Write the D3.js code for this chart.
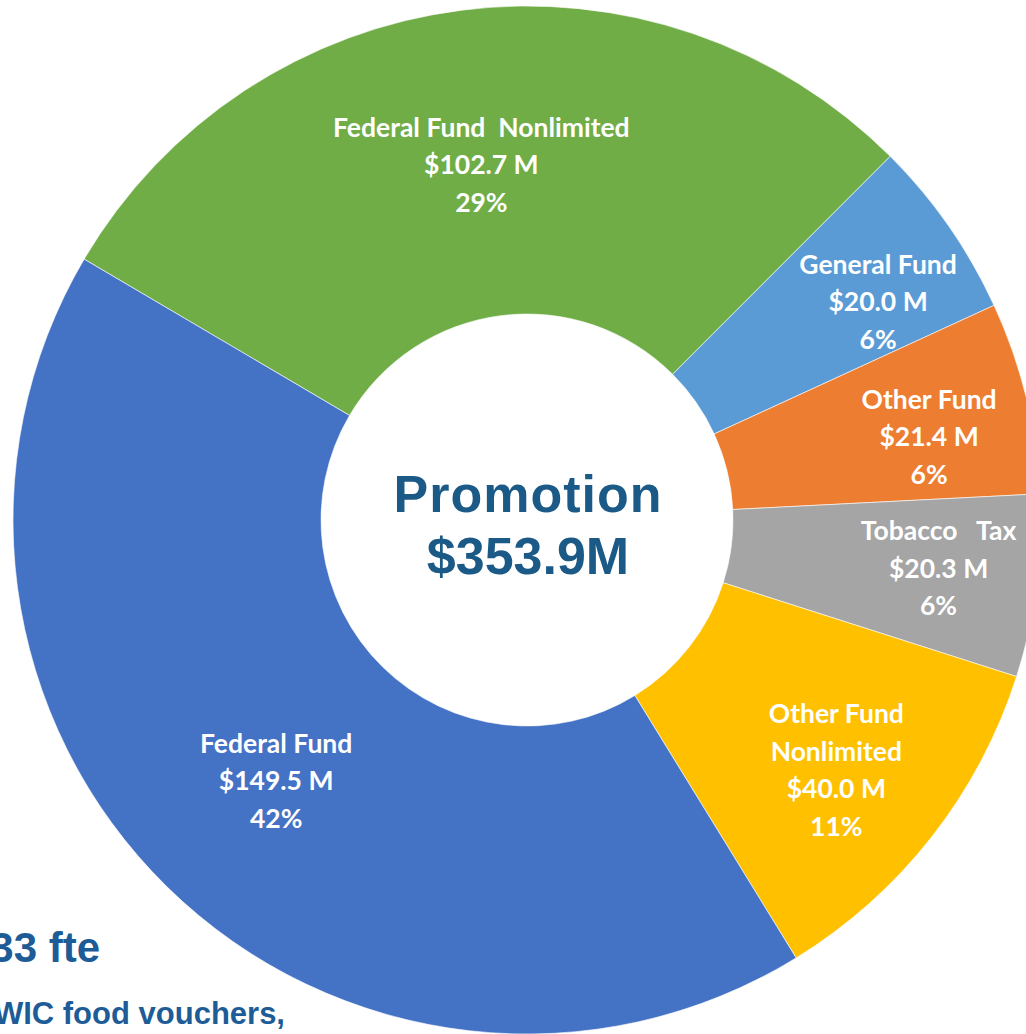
<!DOCTYPE html>
<html>
<head>
<meta charset="utf-8">
<script src="https://cdn.jsdelivr.net/npm/d3@7"></script>
<style>
html,body{margin:0;padding:0;background:#fff;}
svg{display:block;}
</style>
</head>
<body>
<svg id="chart" width="1026" height="1034"></svg>
<script>
// Data
const categories = ["Federal Fund Nonlimited", "General Fund", "Other Fund", "Tobacco Tax", "Other Fund Nonlimited", "Federal Fund"];
const labelLines = [["Federal Fund  Nonlimited"], ["General Fund"], ["Other Fund"], ["Tobacco   Tax"], ["Other Fund", "Nonlimited"], ["Federal Fund"]];
const values = [102.7, 20.0, 21.4, 20.3, 40.0, 149.5];
const percents = ["29%", "6%", "6%", "6%", "11%", "42%"];
const colors = ["#70AD47", "#5B9BD5", "#ED7D31", "#A5A5A5", "#FFC000", "#4472C4"];
const centerTitle = ["Promotion", "$353.9M"];
const backgroundText = ["33 fte", "WIC food vouchers,"];

// layout nudges for the data labels (pixels)
const labelNudge = [[0, 3], [13, 17], [2, 15], [3, -5], [-15, -4], [2, 3]];

const svg = d3.select("#chart");
const cx = 527, cy = 520, R = 514, r = 206;
const startDeg = -59.5;

// background slide text (behind donut)
svg.append("text").attr("x", 100).attr("y", 962).attr("text-anchor", "end")
  .attr("font-family", "Liberation Sans, Arial, sans-serif").attr("font-weight", "bold")
  .attr("font-size", 42).attr("fill", "#1D5C96").text(backgroundText[0]);
svg.append("text").attr("x", 285).attr("y", 1024).attr("text-anchor", "end")
  .attr("font-family", "Liberation Sans, Arial, sans-serif").attr("font-weight", "bold")
  .attr("font-size", 31).attr("fill", "#1D5C96").text(backgroundText[1]);

const pie = d3.pie().sort(null).value(d => d)
  .startAngle(startDeg * Math.PI / 180)
  .endAngle((startDeg + 360) * Math.PI / 180);
const arcs = pie(values);
const arc = d3.arc().innerRadius(r).outerRadius(R);

const g = svg.append("g").attr("transform", `translate(${cx},${cy})`);
g.selectAll("path.slice").data(arcs).enter().append("path")
  .attr("class", "slice")
  .attr("d", arc)
  .attr("fill", (d, i) => colors[i])
  .attr("stroke", "rgba(255,255,255,0.6)")
  .attr("stroke-width", 1);

// labels
const total = d3.sum(values);
const labelArcSmall = d3.arc().innerRadius(412).outerRadius(412);
const labelArcBig = d3.arc().innerRadius(361).outerRadius(361);
const lineH = 37.5;
arcs.forEach((d, i) => {
  const big = values[i] / total > 0.2;
  let [lx, ly] = (big ? labelArcBig : labelArcSmall).centroid(d);
  lx += labelNudge[i][0]; ly += labelNudge[i][1];
  const lines = labelLines[i].concat([`$${values[i].toFixed(1)} M`, percents[i]]);
  const t = g.append("text")
    .attr("text-anchor", "middle")
    .attr("font-family", "Lato, 'Open Sans', sans-serif")
    .attr("font-weight", "bold")
    .attr("font-size", 26.5)
    .attr("fill", "#ffffff")
    .style("white-space", "pre");
  const n = lines.length;
  lines.forEach((s, k) => {
    t.append("tspan").attr("x", lx)
      .attr("y", ly + (k - (n - 1) / 2) * lineH + 9.5)
      .text(s);
  });
});

// center text
const ct = g.append("text").attr("text-anchor", "middle")
  .attr("font-family", "Liberation Sans, Arial, sans-serif")
  .attr("font-weight", "bold").attr("font-size", 52).attr("fill", "#1B5A87");
ct.append("tspan").attr("x", 1).attr("y", -8).attr("letter-spacing", 1).text(centerTitle[0]);
ct.append("tspan").attr("x", 1).attr("y", 54).text(centerTitle[1]);
</script>
</body>
</html>
